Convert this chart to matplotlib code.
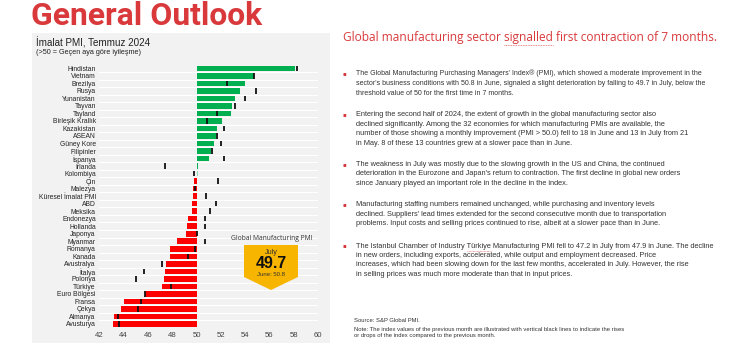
import matplotlib
matplotlib.use("Agg")
import matplotlib.pyplot as plt
from matplotlib.patches import Polygon, Rectangle

# ---------------- data ----------------
countries = ["Hindistan", "Vietnam", "Brezilya", "Rusya", "Yunanistan", "Tayvan", "Tayland",
             "Birleşik Krallık", "Kazakistan", "ASEAN", "Güney Kore", "Filipinler", "İspanya",
             "İrlanda", "Kolombiya", "Çin", "Malezya", "Küresel İmalat PMI", "ABD", "Meksika",
             "Endonezya", "Hollanda", "Japonya", "Myanmar", "Romanya", "Kanada", "Avustralya",
             "İtalya", "Polonya", "Türkiye", "Euro Bölgesi", "Fransa", "Çekya", "Almanya", "Avusturya"]
july = [58.1, 54.7, 54.0, 53.6, 53.2, 52.9, 52.8, 52.1, 51.7, 51.6, 51.4, 51.2, 51.0,
        50.1, 50.1, 49.8, 49.7, 49.7, 49.6, 49.6, 49.3, 49.2, 49.1, 48.4, 47.8, 47.8, 47.5,
        47.4, 47.3, 47.2, 45.8, 44.0, 43.8, 43.2, 43.1]
june = [58.3, 54.7, 52.5, 54.9, 54.0, 53.2, 51.7, 50.9, 52.3, 51.7, 52.0, 51.3, 52.3,
        47.4, 49.8, 51.8, 49.9, 50.8, 51.6, 51.1, 50.7, 50.7, 50.0, 50.7, 49.9, 49.3, 47.2,
        45.7, 45.0, 47.9, 45.8, 45.4, 45.2, 43.5, 43.6]
xticks = [42, 44, 46, 48, 50, 52, 54, 56, 58, 60]

bullet_texts = [
    ["The Global Manufacturing Purchasing Managers' Index® (PMI), which showed a moderate improvement in the",
     "sector's business conditions with 50.8 in June, signaled a slight deterioration by falling to 49.7 in July, below the",
     "threshold value of 50 for the first time in 7 months."],
    ["Entering the second half of 2024, the extent of growth in the global manufacturing sector also",
     "declined significantly. Among the 32 economies for which manufacturing PMIs are available, the",
     "number of those showing a monthly improvement (PMI > 50.0) fell to 18 in June and 13 in July from 21",
     "in May. 8 of these 13 countries grew at a slower pace than in June."],
    ["The weakness in July was mostly due to the slowing growth in the US and China, the continued",
     "deterioration in the Eurozone and Japan's return to contraction. The first decline in global new orders",
     "since January played an important role in the decline in the index."],
    ["Manufacturing staffing numbers remained unchanged, while purchasing and inventory levels",
     "declined. Suppliers' lead times extended for the second consecutive month due to transportation",
     "problems. Input costs and selling prices continued to rise, albeit at a slower pace than in June."],
    ["The Istanbul Chamber of Industry Türkiye Manufacturing PMI fell to 47.2 in July from 47.9 in June. The decline",
     "in new orders, including exports, accelerated, while output and employment decreased. Price",
     "increases, which had been slowing down for the last few months, accelerated in July. However, the rise",
     "in selling prices was much more moderate than that in input prices."],
]

W, H = 740, 350
fig = plt.figure(figsize=(7.4, 3.5), dpi=100)
fig.patch.set_facecolor("white")
renderer = fig.canvas.get_renderer()

def px(x, y):
    return x / W, 1 - y / H

def ptext(x, y, s, **kw):
    fx, fy = px(x, y)
    return fig.text(fx, fy, s, **kw)

def width_of(s, size, **kw):
    t = fig.text(0, 0, s, fontsize=size, **kw)
    w = t.get_window_extent(renderer).width
    t.remove()
    return w

RED = "#d9393b"

# big title (size fitted to reference width)
tw = width_of("General Outlook", 20, family="Roboto", fontweight="bold")
tsize = 20 * 230 / tw
ptext(31, 25, "General Outlook", fontsize=tsize, fontweight="bold", color=RED,
      family="Roboto", va="baseline", ha="left")

# chart panel background
fx0, fy0 = px(32, 343)
panel = Rectangle((fx0, fy0), (330 - 32) / W, (343 - 33) / H, transform=fig.transFigure,
                  facecolor="#f2f2f2", edgecolor="none", zorder=-5)
fig.patches.append(panel)

ptext(36, 43, "İmalat PMI, Temmuz 2024", fontsize=7.1, color="#222222",
      family="Liberation Sans", va="center")
ptext(36, 53, "(>50 = Geçen aya göre iyileşme)", fontsize=5.2, color="#222222",
      family="Liberation Sans", va="center")

# axes
n = len(countries)
top_row, bot_row = 68.3, 324.0
step = (bot_row - top_row) / (n - 1)
ax_top = top_row - step / 2
ax_bot = bot_row + step / 2
x42, x60 = 99.3, 318.0
ax = fig.add_axes([x42 / W, 1 - ax_bot / H, (x60 - x42) / W, (ax_bot - ax_top) / H])
ax.set_zorder(1)
ax.set_facecolor("none")
ax.set_xlim(42, 60)
ax.set_ylim(n - 0.5, -0.5)
for s in ax.spines.values():
    s.set_visible(False)

ypos = list(range(n))
colors = ["#00b050" if v >= 50 else "#ff0000" for v in july]
colors[countries.index("Kolombiya")] = "#8fdcb4"
for i in ypos:
    ax.axhline(i + 0.5, color="white", lw=0.8, zorder=1)
ax.barh(ypos, [v - 50 for v in july], left=50, height=0.74, color=colors, zorder=2)
ax.errorbar(june, ypos, yerr=0.36, fmt="none", ecolor="#111111", elinewidth=1.3,
            capsize=0, zorder=3)

ax.set_yticks(ypos)
ax.set_yticklabels(countries, fontsize=4.9, color="#222222", family="Liberation Sans")
ax.tick_params(axis="y", length=0, pad=2.5)
ax.set_xticks(xticks)
ax.set_xticklabels([str(t) for t in xticks], fontsize=5.6, color="#444444",
                   family="Liberation Sans")
ax.tick_params(axis="x", length=0, pad=3)

# badge
ptext(272, 239, "Global Manufacturing PMI", fontsize=4.9, color="#333333",
      family="Open Sans", ha="center", va="center", zorder=6)
pts = [px(244, 245), px(298, 245), px(298, 277), px(271, 290), px(244, 277)]
badge = Polygon(pts, closed=True, transform=fig.transFigure, facecolor="#f7b500",
                edgecolor="none", zorder=5)
fig.patches.append(badge)
ptext(271, 253, "July", fontsize=5.2, color="#333333", family="Liberation Sans",
      ha="center", va="center", zorder=6)
ptext(271, 264, "49.7", fontsize=11.5, fontweight="bold", color="#111111",
      family="Liberation Sans", ha="center", va="center", zorder=6)
ptext(271, 274, "June: 50.8", fontsize=4.3, color="#333333", family="Liberation Sans",
      ha="center", va="center", zorder=6)

# right side heading
HFS = 8.55
heading_pre = "Global manufacturing sector "
ptext(343, 38, heading_pre + "signalled first contraction of 7 months.",
      fontsize=HFS, color=RED, family="Open Sans", va="center")
u0 = 343 + width_of(heading_pre, HFS, family="Open Sans")
u1 = u0 + width_of("signalled", HFS, family="Open Sans")
fig.add_artist(plt.Line2D([u0 / W, u1 / W], [1 - 45 / H, 1 - 45 / H], transform=fig.transFigure,
                          color="#e06060", lw=0.6, ls=(0, (1, 1))))

# body text: Arial-like, size fitted so the longest line reaches the right margin
body_fam = "Liberation Sans"
max_w = max(width_of(l, 10, family=body_fam) for b in bullet_texts[1:] for l in b)
body_size = 10 * 363 / max_w
b1_size = 10 * 348 / max(width_of(l, 10, family=body_fam) for l in bullet_texts[0])

starts = [73.3, 115.0, 164.3, 205.0, 246.0]
spacings = [10.0, 9.35, 9.35, 9.35, 9.35]
sizes = [b1_size, body_size, body_size, body_size, body_size]
for y0, ls, fs, lines in zip(starts, spacings, sizes, bullet_texts):
    ptext(344, y0, "▪", fontsize=4, color=RED, family="DejaVu Sans", va="center", ha="center")
    for k, line in enumerate(lines):
        ptext(356, y0 + k * ls, line, fontsize=fs, color="#333333",
              family=body_fam, va="center")

# spell-check style underline under "Türkiye"
pre = "The Istanbul Chamber of Industry "
t0 = 356 + width_of(pre, body_size, family=body_fam)
t1 = t0 + width_of("Türkiye", body_size, family=body_fam)
fig.add_artist(plt.Line2D([t0 / W, t1 / W], [1 - 250.5 / H, 1 - 250.5 / H], transform=fig.transFigure,
                          color="#e06060", lw=0.5, ls=(0, (1, 1))))

ptext(354, 320, "Source: S&P Global PMI.", fontsize=4.25, color="#333333",
      family="Liberation Sans", va="center")
ptext(354, 329, "Note: The index values of the previous month are illustrated with vertical black lines to indicate the rises",
      fontsize=4.25, color="#333333", family="Liberation Sans", va="center")
ptext(354, 335, "or drops of the index compared to the previous month.",
      fontsize=4.25, color="#333333", family="Liberation Sans", va="center")

fig.savefig("out.png", dpi=100)
